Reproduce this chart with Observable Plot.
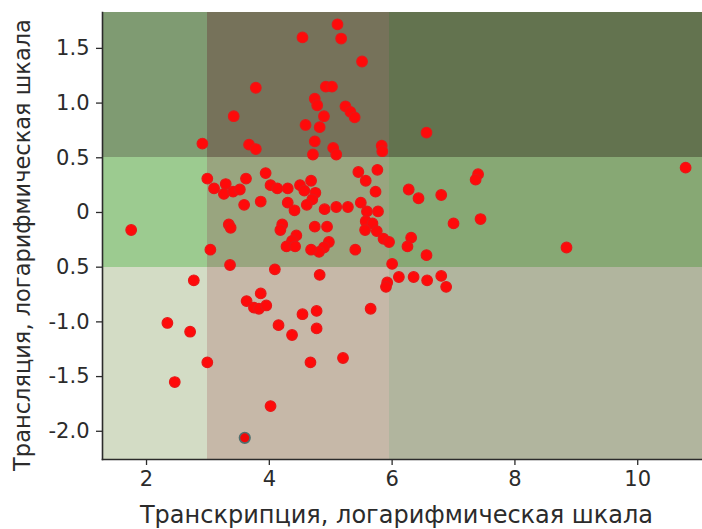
<!DOCTYPE html>
<html>
<head>
<meta charset="utf-8">
<script src="https://cdn.jsdelivr.net/npm/d3@7"></script>
<script src="https://cdn.jsdelivr.net/npm/@observablehq/plot@0.6"></script>
<style>
  html, body { margin: 0; padding: 0; background: #fff; }
</style>
</head>
<body>
<div id="chart"></div>
<script>
// Data
const transcription = [
  5.11, 4.54, 5.17, 5.51, 3.78, 4.92, 5.02, 4.74, 4.78, 5.24, 5.32, 5.39, 3.42, 4.89, 4.59, 4.82,
  2.91, 3.67, 3.78, 4.74, 5.04, 5.09, 5.83, 5.84, 4.71, 6.56,
  2.99, 3.10, 3.29, 3.26, 3.41, 3.52, 3.62, 3.59, 3.86, 3.94, 4.02, 4.13, 4.30, 4.50, 4.57, 4.68,
  4.75, 4.70, 4.30, 4.41, 4.61, 4.90, 5.09, 5.28, 5.45, 5.57, 5.76, 5.73, 5.49, 5.59, 5.77, 5.57,
  5.68, 5.56, 5.75, 5.86, 5.95, 6.00, 3.34, 3.37, 4.21, 4.18, 4.44, 4.37, 4.28, 4.42, 4.74, 4.94,
  4.97, 4.89, 4.81, 4.68, 5.40, 3.04, 3.36, 4.09, 1.75, 7.40, 7.36, 6.27, 6.43, 6.80, 7.00, 7.44,
  10.78, 8.84, 6.31, 6.25, 6.56,
  2.77, 4.82, 6.11, 5.92, 5.90, 6.35, 6.57, 6.80, 6.88, 3.86, 3.63, 3.75, 3.83, 3.95, 4.54, 4.77,
  5.65, 4.15, 4.77, 4.37, 2.99, 4.67, 5.20, 4.02, 3.60, 2.34, 2.71, 2.46
];
const translation = [
  1.72, 1.60, 1.59, 1.38, 1.14, 1.15, 1.15, 1.04, 0.98, 0.97, 0.92, 0.87, 0.88, 0.88, 0.80, 0.78,
  0.63, 0.62, 0.58, 0.65, 0.59, 0.53, 0.61, 0.56, 0.53, 0.73,
  0.31, 0.22, 0.26, 0.17, 0.19, 0.21, 0.31, 0.07, 0.10, 0.36, 0.25, 0.22, 0.22, 0.25, 0.20, 0.29,
  0.18, 0.12, 0.09, 0.02, 0.07, 0.03, 0.05, 0.05, 0.37, 0.29, 0.39, 0.19, 0.09, 0.01, 0.01, -0.08,
  -0.10, -0.16, -0.17, -0.24, -0.27, -0.47, -0.11, -0.14, -0.11, -0.16, -0.21, -0.26, -0.31, -0.31, -0.13, -0.13,
  -0.27, -0.32, -0.36, -0.34, -0.34, -0.34, -0.48, -0.52, -0.16, 0.35, 0.30, 0.21, 0.13, 0.16, -0.10, -0.06,
  0.41, -0.32, -0.23, -0.31, -0.39,
  -0.62, -0.57, -0.59, -0.64, -0.68, -0.59, -0.62, -0.58, -0.68, -0.74, -0.81, -0.87, -0.88, -0.85, -0.93, -0.90,
  -0.88, -1.03, -1.06, -1.12, -1.37, -1.37, -1.33, -1.77, -2.06, -1.01, -1.09, -1.55
];
const highlightedIndex = 119; // the point with a grey-blue outline (3.60, -2.06)

const xTicks = [2, 4, 6, 8, 10];
const xTickLabels = ["2", "4", "6", "8", "10"];
const yTicks = [-2, -1.5, -1, -0.5, 0, 0.5, 1, 1.5];
const yTickLabels = ["-2.0", "-1.5", "-1.0", "0.5", "0", "0.5", "1.0", "1.5"];

const xBreaks = [3, 5.95];     // vertical band limits (transcription)
const yBreaks = [-0.5, 0.5];   // horizontal band limits (translation)

const xLabel = "Транскрипция, логарифмическая шкала";
const yLabel = "Трансляция, логарифмическая шкала";

// Styles
const xDomain = [1.283, 11.055];
const yDomain = [-2.258, 1.828];
// band colours: rows bottom→top, columns left→right
const bandColors = [
  ["#d3dcc5", "#c6b8a8", "#b1b59e"],
  ["#9ccb90", "#99a57f", "#87a874"],
  ["#7f9b72", "#76725a", "#63734f"]
];

const points = transcription.map((x, i) => ({x, y: translation[i], hi: i === highlightedIndex}));
const xEdges = [xDomain[0], ...xBreaks, xDomain[1]];
const yEdges = [yDomain[0], ...yBreaks, yDomain[1]];
const cells = [];
for (let r = 0; r < 3; r++) for (let c = 0; c < 3; c++) {
  cells.push({x1: xEdges[c], x2: xEdges[c + 1], y1: yEdges[r], y2: yEdges[r + 1], fill: bandColors[r][c]});
}

const font = "DejaVu Sans";
const textColor = "#2b2b2b";

const chart = Plot.plot({
  width: 702,
  height: 529,
  marginLeft: 102,
  marginRight: 0,
  marginTop: 12,
  marginBottom: 70,
  style: {fontFamily: font, fontSize: "21px", color: textColor, background: "#fff"},
  x: {domain: xDomain},
  y: {domain: yDomain},
  color: {type: "identity"},
  marks: [
    Plot.rect(cells, {x1: "x1", x2: "x2", y1: "y1", y2: "y2", fill: "fill", shapeRendering: "crispEdges"}),
    Plot.axisX({ticks: xTicks, tickFormat: (d, i) => xTickLabels[i], tickSize: 6, tickPadding: 6, label: null, stroke: textColor, strokeWidth: 1.3, fontSize: 21}),
    Plot.axisY({ticks: yTicks, tickFormat: (d, i) => yTickLabels[i], tickSize: 6, tickPadding: 7, label: null, stroke: textColor, strokeWidth: 1.3, fontSize: 21}),
    Plot.frame({anchor: "left", stroke: textColor, strokeWidth: 1.6}),
    Plot.frame({anchor: "bottom", stroke: textColor, strokeWidth: 1.6}),
    Plot.dot(points.filter(d => !d.hi), {x: "x", y: "y", r: 5.3, fill: "#ff0a0a", stroke: "#e81818", strokeWidth: 1.2}),
    Plot.dot(points.filter(d => d.hi), {x: "x", y: "y", r: 5.3, fill: "#f00808", stroke: "#4f6f6f", strokeWidth: 1.6}),
    Plot.text([xLabel], {text: d => d, frameAnchor: "bottom", textAnchor: "middle", lineAnchor: "middle", dy: 56, dx: -6, fontSize: 24, fill: textColor}),
    Plot.text([yLabel], {text: d => d, frameAnchor: "left", textAnchor: "middle", lineAnchor: "middle", rotate: -90, dx: -80, dy: 9, fontSize: 22.5, fill: textColor})
  ]
});
document.getElementById("chart").appendChild(chart);
</script>
</body>
</html>
